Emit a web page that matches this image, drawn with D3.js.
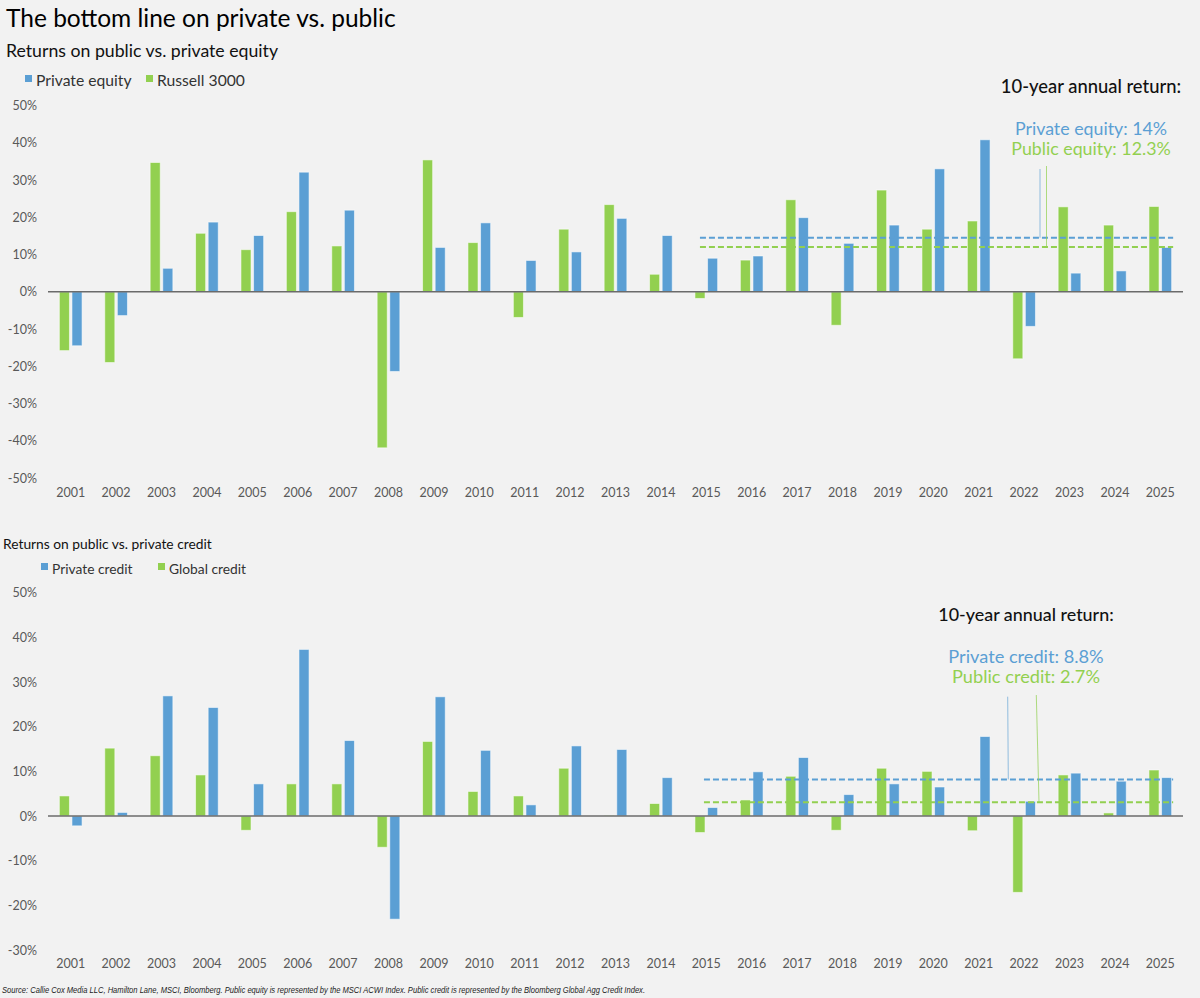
<!DOCTYPE html>
<html><head><meta charset="utf-8">
<script src="https://cdn.jsdelivr.net/npm/d3@7/dist/d3.min.js"></script>
<style>body{margin:0;background:#f2f2f2}svg{display:block}</style>
</head><body><svg id="c" width="1200" height="998"></svg>
<script>
const years = ["2001","2002","2003","2004","2005","2006","2007","2008","2009","2010","2011","2012","2013","2014","2015","2016","2017","2018","2019","2020","2021","2022","2023","2024","2025"];
const privateEquity = [-14.5,-6.4,6.3,18.7,15.1,32.1,21.9,-21.4,11.9,18.5,8.4,10.7,19.7,15.1,9.0,9.6,19.9,13.0,17.9,33.0,40.8,-9.3,5.0,5.6,11.9];
const russell3000   = [-15.8,-19.0,34.7,15.7,11.3,21.5,12.3,-41.9,35.4,13.2,-6.9,16.8,23.4,4.7,-1.8,8.5,24.7,-9.0,27.3,16.8,19.0,-18.0,22.8,17.9,22.9];
const privateCredit = [-2.2,0.8,26.9,24.3,7.2,37.3,16.9,-23.1,26.7,14.7,2.5,15.7,14.9,8.6,1.9,9.9,13.1,4.8,7.2,6.5,17.8,3.3,9.6,7.8,8.6];
const globalCredit  = [4.5,15.2,13.5,9.2,-3.2,7.2,7.2,-7.0,16.7,5.5,4.5,10.7,0.1,2.8,-3.7,3.6,8.9,-3.2,10.7,10.0,-3.3,-17.1,9.2,0.7,10.3];
const equityTicks = [50,40,30,20,10,0,-10,-20,-30,-40,-50];
const creditTicks = [50,40,30,20,10,0,-10,-20,-30];
const equityAvgLines = [14.5, 12.0];   // private, public (as drawn)
const creditAvgLines = [8.2, 3.1];
const equityAvgLabels = ["Private equity: 14%", "Public equity: 12.3%"];
const creditAvgLabels = ["Private credit: 8.8%", "Public credit: 2.7%"];
const avgStartYear = "2015";
const avgEndYear = "2025";

const BLUE = "#5B9FD4", GREEN = "#92D050", TXT = "#595959";
const FONT = "Lato, 'Open Sans', sans-serif";
const svg = d3.select("#c");
svg.append("rect").attr("width",1200).attr("height",998).attr("fill","#f2f2f2");

const x = d3.scaleBand().domain(years).range([48,1183]).paddingInner(0.5).paddingOuter(0.25);
const x1 = d3.scaleBand().domain(["pub","priv"]).range([0,x.bandwidth()]).paddingInner(0.2);

function drawChart(o){
  const g = svg.append("g");
  const y = d3.scaleLinear().domain(o.domain).range(o.range);
  const ax = g.append("g").attr("transform","translate(37,0)")
    .call(d3.axisLeft(y).tickValues(o.ticks).tickSize(0).tickPadding(0).tickFormat(d=>d+"%"));
  ax.select(".domain").remove();
  ax.selectAll("text").attr("font-family",FONT).attr("font-size",12.5).attr("fill",TXT);
  const xa = g.append("g").attr("transform",`translate(0,${o.xLabelY})`)
    .call(d3.axisBottom(x).tickSize(0).tickPadding(0));
  xa.select(".domain").remove();
  xa.selectAll("text").attr("font-family",FONT).attr("font-size",12.5).attr("fill",TXT).attr("dy","0.71em");
  const series = [{k:"pub",v:o.pub,c:GREEN},{k:"priv",v:o.priv,c:BLUE}];
  series.forEach(s=>{
    g.append("g").selectAll("rect").data(years).join("rect")
      .attr("x",(d)=>x(d)+x1(s.k))
      .attr("width",x1.bandwidth())
      .attr("y",(d,i)=>y(Math.max(0,s.v[i])))
      .attr("height",(d,i)=>Math.abs(y(s.v[i])-y(0)))
      .attr("fill",s.c).attr("stroke","#ffffff").attr("stroke-opacity",0.55).attr("stroke-width",1);
  });
  g.append("line").attr("x1",x.range()[0]).attr("x2",x.range()[1]).attr("y1",y(0)).attr("y2",y(0))
    .attr("stroke","#6b6b6b").attr("stroke-width",1.5);
  const xs = x(avgStartYear)+x1("pub")+o.dashStart, xe = x(avgEndYear)+x.bandwidth()+1.5;
  [[o.avg[0],BLUE],[o.avg[1],GREEN]].forEach(([v,c])=>{
    g.append("line").attr("x1",xs).attr("x2",xe).attr("y1",y(v)).attr("y2",y(v))
      .attr("stroke",c).attr("stroke-width",2).attr("stroke-dasharray","6,3");
  });
  g.append("text").attr("x",o.annX).attr("y",o.annY[0]).attr("text-anchor","middle")
    .attr("font-family",FONT).attr("font-size",o.headSize).attr("font-weight",500).attr("fill","#111")
    .text("10-year annual return:");
  g.append("text").attr("x",o.annX).attr("y",o.annY[1]).attr("text-anchor","middle")
    .attr("font-family",FONT).attr("font-size",o.annSize).attr("fill",BLUE).text(o.labels[0]);
  g.append("text").attr("x",o.annX).attr("y",o.annY[2]).attr("text-anchor","middle")
    .attr("font-family",FONT).attr("font-size",o.annSize).attr("fill",GREEN).text(o.labels[1]);
  g.append("line").attr("x1",o.lead[0][0]).attr("y1",o.lead[0][1]).attr("x2",o.lead[0][2]).attr("y2",y(o.avg[0]))
    .attr("stroke",BLUE).attr("stroke-width",0.8).attr("opacity",0.8);
  g.append("line").attr("x1",o.lead[1][0]).attr("y1",o.lead[1][1]).attr("x2",o.lead[1][2]).attr("y2",y(o.avg[1]))
    .attr("stroke",GREEN).attr("stroke-width",0.8).attr("opacity",0.9);
  g.append("text").attr("x",o.subX).attr("y",o.subY).attr("font-family",FONT).attr("font-size",o.subSize)
    .attr("fill","#111").text(o.subtitle);
  o.legend.forEach(l=>{
    g.append("rect").attr("x",l.x).attr("y",o.legY-o.legSq+1).attr("width",o.legSq).attr("height",o.legSq).attr("fill",l.c);
    g.append("text").attr("x",l.x+o.legSq+4).attr("y",o.legY+o.legSize*0.35).attr("font-family",FONT)
      .attr("font-size",o.legSize).attr("fill","#333").text(l.t);
  });
}

svg.append("text").attr("x",6).attr("y",27).attr("font-family",FONT).attr("font-size",24.5)
  .attr("fill","#000").text("The bottom line on private vs. public");

drawChart({
  domain:[-50,50], range:[478,105.5], ticks:equityTicks, xLabelY:488,
  pub:russell3000, priv:privateEquity, avg:equityAvgLines, labels:equityAvgLabels, dashStart:5,
  annX:1091, annY:[93,135,155], annSize:17.8, headSize:18.4,
  lead:[[1040,169,1040],[1046.5,166,1046.5]],
  subtitle:"Returns on public vs. private equity", subX:6, subY:57, subSize:17.7,
  legY:81, legSq:7, legSize:15.7,
  legend:[{x:25,c:BLUE,t:"Private equity"},{x:146,c:GREEN,t:"Russell 3000"}]
});
drawChart({
  domain:[-30,50], range:[950,592.7], ticks:creditTicks, xLabelY:959,
  pub:globalCredit, priv:privateCredit, avg:creditAvgLines, labels:creditAvgLabels, dashStart:9,
  annX:1026, annY:[621,663,683], annSize:18.2, headSize:17.9,
  lead:[[1007.7,696.7,1008.3],[1036.3,695,1039]],
  subtitle:"Returns on public vs. private credit", subX:3, subY:549, subSize:13.8,
  legY:569, legSq:7, legSize:13.8,
  legend:[{x:41,c:BLUE,t:"Private credit"},{x:158,c:GREEN,t:"Global credit"}]
});

svg.append("text").attr("x",2).attr("y",993).attr("font-family","'Liberation Sans Narrow', 'Liberation Sans', sans-serif")
  .attr("font-style","italic").attr("font-size",8.5).attr("fill","#222")
  .attr("textLength",643).attr("lengthAdjust","spacingAndGlyphs")
  .text("Source: Callie Cox Media LLC, Hamilton Lane, MSCI, Bloomberg. Public equity is represented by the MSCI ACWI Index. Public credit is represented by the Bloomberg Global Agg Credit Index.");
</script></body></html>
